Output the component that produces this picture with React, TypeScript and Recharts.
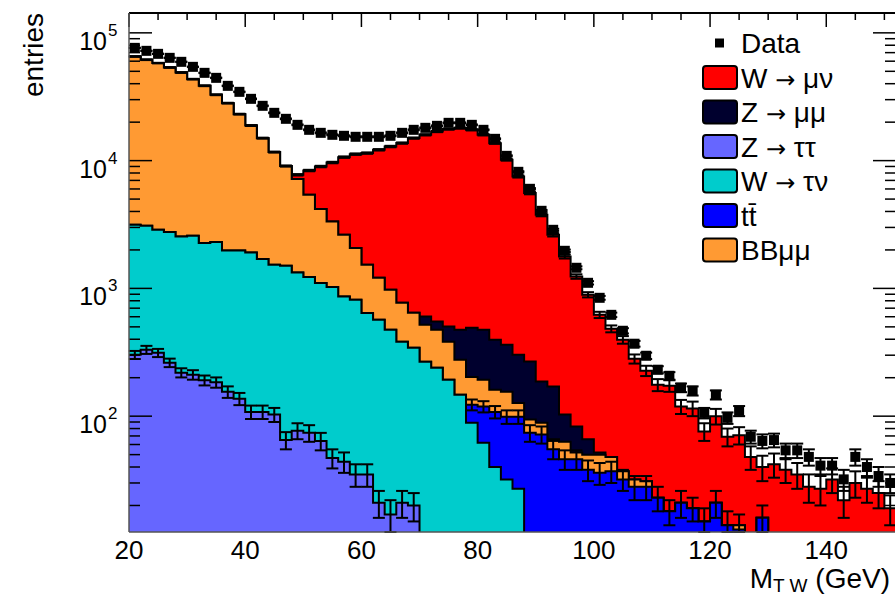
import React from 'react';
import { ComposedChart, Area, Scatter, XAxis, YAxis, ErrorBar } from 'recharts';

// ---------- data (2 GeV bins, low edges) ----------
const binLow = [20,22,24,26,28,30,32,34,36,38,40,42,44,46,48,50,52,54,56,58,60,62,64,66,68,70,72,74,76,78,80,82,84,86,88,90,92,94,96,98,100,102,104,106,108,110,112,114,116,118,120,122,124,126,128,130,132,134,136,138,140,142,144,146,148,150];
const xMin = 20;
const xMax = 152;
const binWidth = 2;

// stack components, bottom to top
const zTauTau = [302,331,313,262,219,211,191,184,155,137,108,108,103,65,77,74,64,47,44,35,35,21,17,21,20,0,0,0,0,0,0,0,0,0,0,0,0,0,0,0,0,0,0,0,0,0,0,0,0,0,0,0,0,0,0,0,0,0,0,0,0,0,0,0,0,0];
const wTauNu = [2846,2760,2561,2495,2328,2369,2071,2119,1825,1843,1802,1588,1427,1437,1255,1152,1036,977,820,779,606,547,457,361,323,267,239,193,147,89,62,40,32,27,0,0,0,0,0,0,0,0,0,0,0,0,0,0,0,0,0,0,0,0,0,0,0,0,0,0,0,0,0,0,0,0];
const ttbar = [0,0,0,0,0,0,0,0,0,0,0,0,0,0,0,0,0,0,0,0,0,0,0,0,0,0,0,0,0,34,57,68,67,72,74,72,55,46,46,38,36,37,32,28,28,23,18,21,19,15,21,14,13,0,16,0,0,0,0,0,0,0,0,0,0,0];
const bbMuMu = [62100,58430,55100,50770,46330,40840,36220,30420,26200,21130,16910,13300,10130,7570,5833,4174,3074,2314,1763,1253,889,642,501,390,302,252,235,189,129,80,74,53,56,28,20,17,11,17,6,12,14,11,5,4,3,0,0,0,0,0,0,0,1,0,0,0,0,0,0,0,0,0,0,0,0,0];
const zMuMu = [0,0,0,0,0,0,0,0,0,0,0,0,0,0,0,0,0,0,0,0,0,0,0,0,0,84,77,121,198,289,281,235,207,175,174,98,105,40,31,16,2,0,0,0,0,0,0,0,0,0,0,0,0,0,0,0,0,0,0,0,0,0,0,0,0,0];
const wMuNu = [0,0,0,0,0,0,0,0,0,0,0,0,0,0,580,2965,4816,6325,8023,9173,9920,10940,11915,12940,14355,15317,16340,17140,17490,16930,15450,13310,9790,7208,5300,3579,2456,1674,1156,826,569,435,359,249,196,153,155,98,96,61,79,55,57,48,24,42,38,35,28,27,32,22,30,27,25,19];

const data = [76300,72320,68500,63740,59320,54200,48640,44450,38480,34540,30450,26850,23660,21240,19060,17420,16500,15920,15640,15360,15360,15360,15640,16500,17420,18060,18720,19760,19760,19060,17420,14810,10900,8173,6017,4048,2874,1969,1450,1106,844,621,466,369,297,231,207,167,158,106,147,97,110,69,64,65,54,54,48,41,41,32,48,40,34,30];
const dataErr = [276,269,262,252,244,233,221,211,196,186,175,164,154,146,138,132,128,126,125,124,124,124,125,128,132,134,137,141,141,138,132,122,104,90,78,64,54,44,38,33,29,25,22,19,17,15,14,13,13,10,12,10,10,8,8,8,7,7,7,6,6,6,7,6,6,5];

// statistical errors of the stacked MC boundaries
const zTauTauErr = [22,24,23,20,18,18,17,17,16,15,13,13,13,10,11,11,10,8,8,7,7,5,5,5,5,0,0,0,0,0,0,0,0,0,0,0,0,0,0,0,0,0,0,0,0,0,0,0,0,0,0,0,0,0,0,0,0,0,0,0,0,0,0,0,0,0];
const ttbarErr = [0,0,0,0,0,0,0,0,0,0,0,0,0,0,0,0,0,0,0,0,0,0,0,0,0,0,0,0,0,12,12,12,12,12,11,11,9,8,8,7,7,7,6,6,6,5,4,5,4,4,5,4,4,0,4,0,0,0,0,0,0,0,0,0,0,0];
const totalErr = [330,320,300,290,270,250,230,210,190,170,150,130,110,100,100,110,120,130,140,150,150,160,170,170,180,190,190,200,200,200,190,180,160,140,120,100,80,65,50,42,35,30,27,23,21,19,18,15,15,12,14,11,11,10,9,9,8,8,7,7,7,6,7,6,6,5];

const xTicks = [20,25,30,35,40,45,50,55,60,65,70,75,80,85,90,95,100,105,110,115,120,125,130,135,140,145,150];
const yTicks = [20,30,40,50,60,70,80,90,100,200,300,400,500,600,700,800,900,1000,2000,3000,4000,5000,6000,7000,8000,9000,10000,20000,30000,40000,50000,60000,70000,80000,90000,100000];
const yMin = 12.4;
const yMax = 143000;
const FLOOR = 1;

const legendLabels = ['W → μν', 'Z → μμ', 'Z → ττ', 'W → τν', 'tt̄', 'BBμμ'];
const legendColors = ['#ff0000', '#00002e', '#6666ff', '#00cccc', '#0000ff', '#ff9a33'];

// ---------- derived tables ----------
const stack = [zTauTau, wTauNu, ttbar, bbMuMu, zMuMu, wMuNu];
const N = binLow.length;
const rows: any[] = binLow.map((lo, i) => {
  const r: any = { x: lo };
  let s = 0;
  stack.forEach((arr, k) => {
    s += arr[i];
    r['c' + (k + 1)] = s > 0 ? s : FLOOR;
  });
  return r;
});
rows.push({ ...rows[N - 1], x: xMax });

const centers = binLow.map((lo) => lo + binWidth / 2);
// error bars are clipped at the lower edge of the frame
const clipErr = (y: number, e: number) => [Math.min(e, y - yMin), e];
const errPoints = (key: string, errs: number[]) =>
  centers
    .map((c, i) => ({ x: c, y: rows[i][key], err: clipErr(rows[i][key], errs[i]) }))
    .filter((p, i) => errs[i] > 0 && p.y > yMin);

const zttPts = errPoints('c1', zTauTauErr);
const ttPts = errPoints('c3', ttbarErr);
const totPts = errPoints('c6', totalErr);
const dataPts = centers.map((c, i) => ({ x: c, y: data[i], err: clipErr(data[i], dataErr[i]) }));

// ---------- layout ----------
const FONT = "'Liberation Sans', Arial, Helvetica, sans-serif";
const CHART_W = 925;
const CHART_H = 596;
const PLOT_LEFT = 129;
const PLOT_TOP = 13;
const PLOT_RIGHT = 896;
const PLOT_BOTTOM = 532;

const XTick = (props: any) => {
  const { x, payload } = props;
  const v = payload.value;
  const major = v % 20 === 0;
  return (
    <g>
      <line x1={x} x2={x} y1={PLOT_TOP} y2={PLOT_TOP + (major ? 14 : 7)} stroke="#000" strokeWidth={1.5} />
      {major && (
        <text x={x} y={559} textAnchor="middle" fontSize={26} fill="#000" fontFamily={FONT}>
          {v}
        </text>
      )}
    </g>
  );
};

const YTick = (props: any) => {
  const { y, payload } = props;
  const v = payload.value;
  const e = Math.log10(v);
  const major = Math.abs(e - Math.round(e)) < 1e-6;
  const len = major ? 23 : 11;
  return (
    <g>
      <line x1={PLOT_LEFT} x2={PLOT_LEFT + len} y1={y} y2={y} stroke="#000" strokeWidth={1.5} />
      <line x1={PLOT_RIGHT} x2={PLOT_RIGHT - len} y1={y} y2={y} stroke="#000" strokeWidth={1.5} />
      {major && (
        <g fontFamily={FONT} fill="#000">
          <text x={107} y={y + 17} textAnchor="end" fontSize={25}>10</text>
          <text x={108} y={y + 3} fontSize={17}>{Math.round(e)}</text>
        </g>
      )}
    </g>
  );
};

const NoShape = () => <g />;
const Square = (p: any) => <rect x={p.cx - 5} y={p.cy - 5} width={10} height={10} fill="#000" />;

const areaProps = {
  type: 'stepAfter' as const,
  stroke: '#000',
  strokeWidth: 2,
  fillOpacity: 1,
  isAnimationActive: false,
  baseValue: FLOOR,
  dot: false,
  activeDot: false,
};

const LegendText = ({ x, y, label }: { x: number; y: number; label: string }) => {
  const parts = label.split('→');
  return (
    <text x={x} y={y} fontSize={28} fill="#000">
      {parts[0]}
      {parts.length > 1 && <tspan fontFamily="'DejaVu Sans', sans-serif" fontSize={24}>→</tspan>}
      {parts.length > 1 && parts[1]}
    </text>
  );
};

export default function App() {
  const legendTop = 43;
  const legendStep = 34.5;
  return (
    <div style={{ position: 'absolute', left: 0, top: 0, width: 895, height: 596, overflow: 'hidden', background: '#fff' }}>
      <ComposedChart
        width={CHART_W}
        height={CHART_H}
        data={rows}
        margin={{ top: PLOT_TOP, right: CHART_W - PLOT_RIGHT, bottom: 0, left: 0 }}
      >
        <XAxis
          dataKey="x"
          type="number"
          domain={[xMin, xMax]}
          allowDataOverflow
          ticks={xTicks}
          interval={0}
          tick={XTick}
          tickLine={false}
          axisLine={false}
          height={CHART_H - PLOT_BOTTOM}
          zIndex={50}
        />
        <YAxis
          scale="log"
          domain={[yMin, yMax]}
          allowDataOverflow
          ticks={yTicks}
          interval={0}
          tick={YTick}
          tickLine={false}
          axisLine={false}
          width={PLOT_LEFT}
          zIndex={50}
        />
        <Area dataKey="c6" fill={legendColors[0]} {...areaProps} />
        <Area dataKey="c5" fill={legendColors[1]} {...areaProps} />
        <Area dataKey="c4" fill={legendColors[5]} {...areaProps} />
        <Area dataKey="c3" fill={legendColors[4]} {...areaProps} />
        <Area dataKey="c2" fill={legendColors[3]} {...areaProps} />
        <Area dataKey="c1" fill={legendColors[2]} {...areaProps} />
        <Scatter data={zttPts} dataKey="y" shape={NoShape} isAnimationActive={false}>
          <ErrorBar dataKey="err" direction="y" width={6} stroke="#000" strokeWidth={2} />
        </Scatter>
        <Scatter data={ttPts} dataKey="y" shape={NoShape} isAnimationActive={false}>
          <ErrorBar dataKey="err" direction="y" width={6} stroke="#000" strokeWidth={2} />
        </Scatter>
        <Scatter data={totPts} dataKey="y" shape={NoShape} isAnimationActive={false}>
          <ErrorBar dataKey="err" direction="y" width={6} stroke="#000" strokeWidth={2} />
        </Scatter>
        <Scatter data={dataPts} dataKey="y" shape={Square} isAnimationActive={false}>
          <ErrorBar dataKey="err" direction="y" width={6} stroke="#000" strokeWidth={2} />
        </Scatter>
      </ComposedChart>
      <svg
        width={895}
        height={596}
        style={{ position: 'absolute', left: 0, top: 0, pointerEvents: 'none' }}
        fontFamily={FONT}
      >
        <line x1={PLOT_LEFT} x2={PLOT_RIGHT} y1={PLOT_TOP} y2={PLOT_TOP} stroke="#000" strokeWidth={2} />
        <line x1={PLOT_LEFT} x2={PLOT_LEFT} y1={PLOT_TOP} y2={PLOT_BOTTOM} stroke="#555" strokeWidth={1.5} />
        <line x1={PLOT_LEFT} x2={PLOT_RIGHT} y1={PLOT_BOTTOM} y2={PLOT_BOTTOM} stroke="#555" strokeWidth={1.5} />
        <text transform="translate(43,13) rotate(-90)" textAnchor="end" fontSize={28} fill="#000">entries</text>
        <text x={890} y={588} textAnchor="end" fontSize={28} fill="#000">
          M<tspan fontSize={19} dy={4}>T W</tspan>
          <tspan dy={-4}> (GeV)</tspan>
        </text>
        <rect x={715} y={legendTop - 4.5} width={9} height={9} fill="#000" />
        <text x={741} y={legendTop + 10} fontSize={28} fill="#000">Data</text>
        {legendLabels.map((lab, i) => {
          const cy = legendTop + legendStep * (i + 1);
          return (
            <g key={lab}>
              <rect x={703} y={cy - 11.5} width={34} height={23} rx={3} fill={legendColors[i]} stroke="#000" strokeWidth={2} />
              <LegendText x={741} y={cy + 10} label={lab} />
            </g>
          );
        })}
      </svg>
    </div>
  );
}
